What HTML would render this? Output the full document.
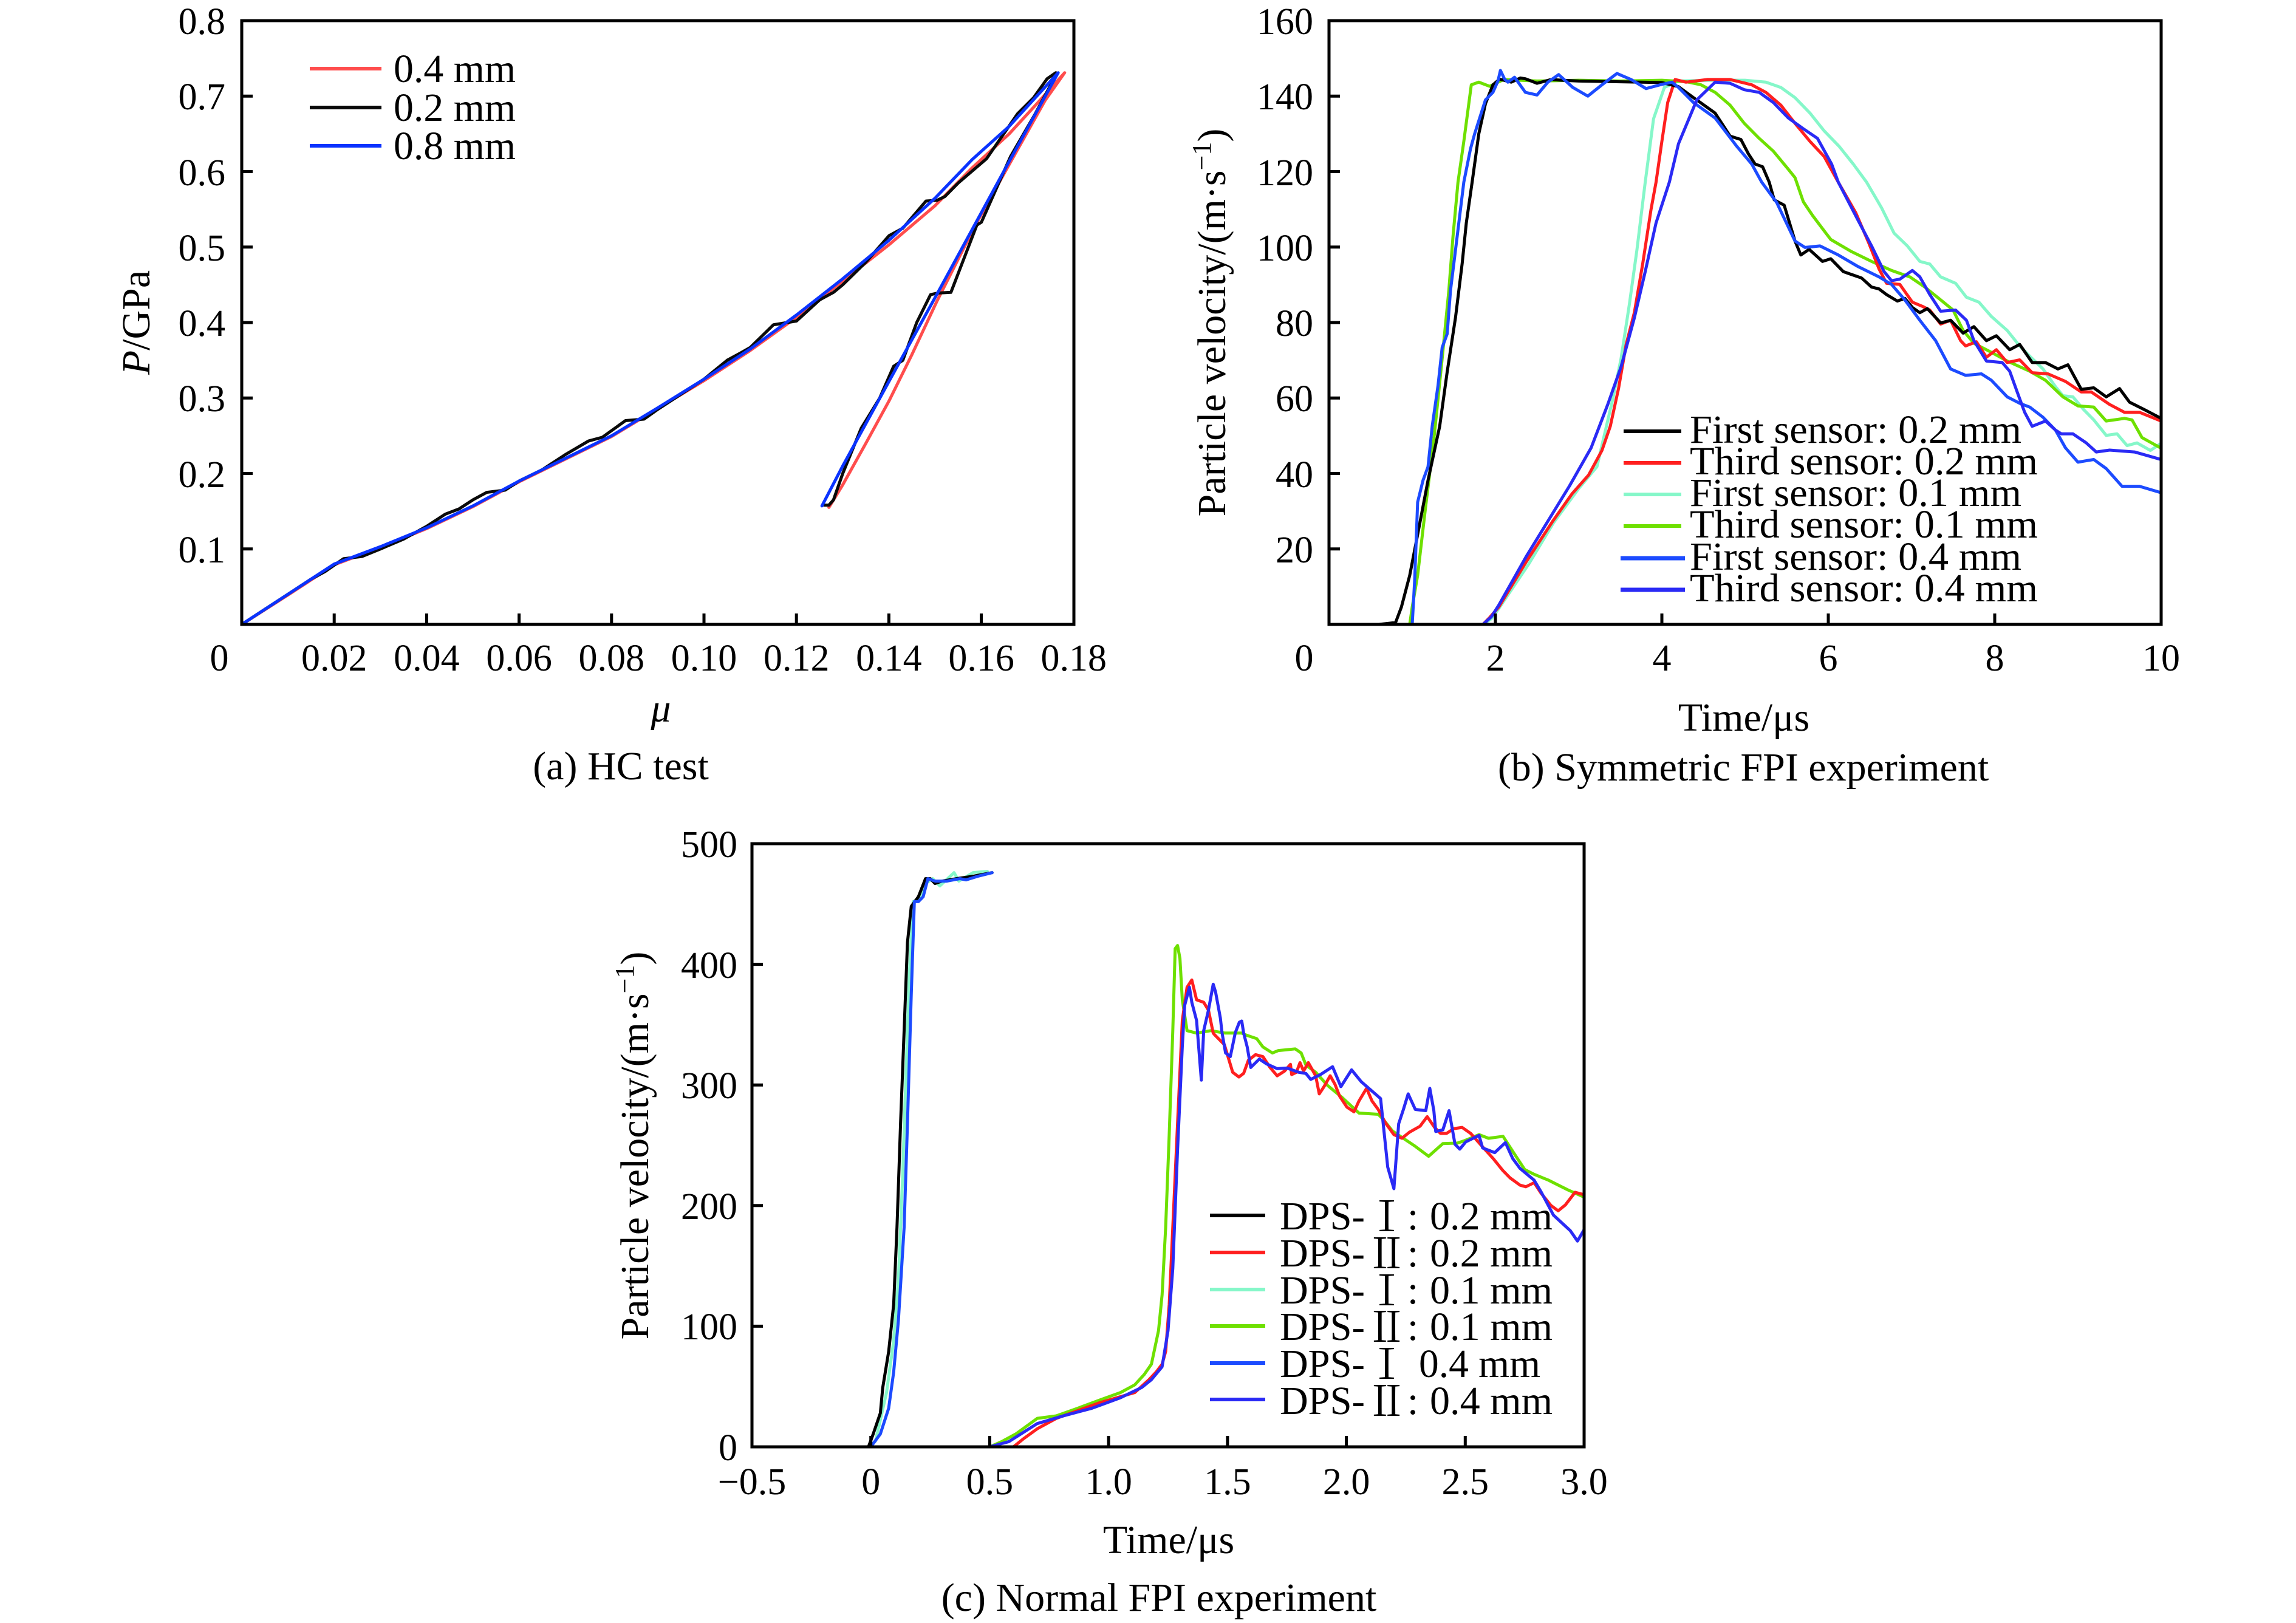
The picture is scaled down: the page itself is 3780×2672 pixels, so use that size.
<!DOCTYPE html>
<html>
<head>
<meta charset="utf-8">
<style>
html,body{margin:0;padding:0;background:#fff;}
svg{display:block;}
.t{font-family:"Liberation Serif","Noto Serif CJK SC",serif;fill:#000;}
.tk{font-size:62px;}
.lg{font-size:66px;}
.ti{font-size:66px;}
.rn{font-family:"Noto Serif CJK SC","Noto Sans CJK SC",serif;font-size:68px;fill:#000;}
polyline{fill:none;stroke-linejoin:round;stroke-linecap:round;}
</style>
</head>
<body>
<svg width="3780" height="2672" viewBox="0 0 3780 2672" xmlns="http://www.w3.org/2000/svg">
<rect x="0" y="0" width="3780" height="2672" fill="#fff"/>

<!-- ================= PANEL A ================= -->
<g transform="translate(398,1028) scale(7611.1,-1242.5)">
  <polyline vector-effect="non-scaling-stroke" stroke="#ff4d4d" stroke-width="5" points="0,0 0.01,0.039 0.02,0.079 0.03,0.102 0.04,0.127 0.05,0.156 0.06,0.189 0.07,0.219 0.08,0.249 0.09,0.286 0.1,0.323 0.11,0.363 0.12,0.407 0.13,0.455 0.14,0.503 0.15,0.555 0.158,0.605 0.166,0.65 0.172,0.69 0.178,0.731 0.1738,0.6945 0.1656,0.605 0.1586,0.528 0.1504,0.4286 0.145,0.358 0.14,0.296 0.135,0.24 0.13,0.185 0.127,0.155"/>
  <polyline vector-effect="non-scaling-stroke" stroke="#0a0a0a" stroke-width="5" points="0,0 0.005,0.02 0.01,0.04 0.015,0.06 0.018,0.07 0.022,0.087 0.026,0.09 0.03,0.1 0.035,0.113 0.04,0.13 0.044,0.146 0.047,0.153 0.05,0.165 0.053,0.175 0.057,0.178 0.06,0.19 0.065,0.205 0.07,0.225 0.075,0.243 0.078,0.248 0.083,0.27 0.087,0.272 0.09,0.285 0.095,0.305 0.1,0.325 0.105,0.35 0.108,0.36 0.11,0.367 0.115,0.397 0.12,0.402 0.125,0.43 0.128,0.44 0.13,0.45 0.135,0.48 0.14,0.515 0.143,0.525 0.148,0.561 0.1504,0.562 0.1521,0.567 0.155,0.585 0.1611,0.617 0.1678,0.6765 0.1713,0.698 0.1742,0.723 0.1761,0.731 0.175,0.715 0.1715,0.675 0.1663,0.62 0.160,0.533 0.159,0.529 0.1534,0.44 0.1505,0.439 0.149,0.437 0.146,0.4 0.143,0.35 0.141,0.342 0.138,0.3 0.134,0.26 0.13,0.2 0.128,0.165 0.127,0.158 0.126,0.158"/>
  <polyline vector-effect="non-scaling-stroke" stroke="#0a33ff" stroke-width="5" points="0,0 0.01,0.04 0.02,0.08 0.03,0.103 0.04,0.128 0.05,0.157 0.06,0.19 0.07,0.22 0.08,0.25 0.09,0.287 0.1,0.325 0.11,0.365 0.12,0.41 0.13,0.458 0.14,0.509 0.15,0.565 0.158,0.616 0.166,0.66 0.1766,0.731 0.1657,0.61 0.1514,0.449 0.14,0.322 0.13,0.21 0.1255,0.157"/>
</g>
<rect x="398" y="34" width="1370" height="994" fill="none" stroke="#000" stroke-width="5"/>
<g stroke="#000" stroke-width="5">
  <line x1="398" y1="158.25" x2="416" y2="158.25"/><line x1="398" y1="282.5" x2="416" y2="282.5"/>
  <line x1="398" y1="406.75" x2="416" y2="406.75"/><line x1="398" y1="531" x2="416" y2="531"/>
  <line x1="398" y1="655.25" x2="416" y2="655.25"/><line x1="398" y1="779.5" x2="416" y2="779.5"/>
  <line x1="398" y1="903.75" x2="416" y2="903.75"/>
  <line x1="550.2" y1="1028" x2="550.2" y2="1010"/><line x1="702.4" y1="1028" x2="702.4" y2="1010"/>
  <line x1="854.6" y1="1028" x2="854.6" y2="1010"/><line x1="1006.8" y1="1028" x2="1006.8" y2="1010"/>
  <line x1="1159" y1="1028" x2="1159" y2="1010"/><line x1="1311.2" y1="1028" x2="1311.2" y2="1010"/>
  <line x1="1463.4" y1="1028" x2="1463.4" y2="1010"/><line x1="1615.6" y1="1028" x2="1615.6" y2="1010"/>
</g>
<g class="t tk" text-anchor="end">
  <text x="371" y="56">0.8</text><text x="371" y="180">0.7</text><text x="371" y="305">0.6</text>
  <text x="371" y="429">0.5</text><text x="371" y="553">0.4</text><text x="371" y="677">0.3</text>
  <text x="371" y="802">0.2</text><text x="371" y="926">0.1</text>
</g>
<g class="t tk" text-anchor="middle">
  <text x="361" y="1104">0</text><text x="550.2" y="1104">0.02</text><text x="702.4" y="1104">0.04</text>
  <text x="854.6" y="1104">0.06</text><text x="1006.8" y="1104">0.08</text><text x="1159" y="1104">0.10</text>
  <text x="1311.2" y="1104">0.12</text><text x="1463.4" y="1104">0.14</text><text x="1615.6" y="1104">0.16</text>
  <text x="1767.8" y="1104">0.18</text>
</g>
<text class="t ti" x="1088" y="1188" text-anchor="middle" font-style="italic">μ</text>
<text class="t ti" transform="translate(246,531) rotate(-90)" text-anchor="middle"><tspan font-style="italic">P</tspan>/GPa</text>
<text class="t ti" x="1022" y="1283" text-anchor="middle">(a) HC test</text>
<line x1="510" y1="113" x2="628" y2="113" stroke="#ff4d4d" stroke-width="6"/>
<line x1="510" y1="177" x2="628" y2="177" stroke="#0a0a0a" stroke-width="6"/>
<line x1="510" y1="240" x2="628" y2="240" stroke="#0a33ff" stroke-width="6"/>
<text class="t lg" x="648" y="135" textLength="201" lengthAdjust="spacingAndGlyphs">0.4 mm</text>
<text class="t lg" x="648" y="199" textLength="201" lengthAdjust="spacingAndGlyphs">0.2 mm</text>
<text class="t lg" x="648" y="262" textLength="201" lengthAdjust="spacingAndGlyphs">0.8 mm</text>

<!-- ================= PANEL B ================= -->
<g transform="translate(2188,1028) scale(137,-6.2125)">
  <polyline vector-effect="non-scaling-stroke" stroke="#85f7c9" stroke-width="5" points="1.0,0 1.85,0 1.95,1.5 2.04,4.2 2.4,16 2.7,27 3.0,36 3.22,41.8 3.41,59.7 3.51,70.5 3.61,84.9 3.7,99.2 3.8,117.2 3.9,134 4.03,142.3 4.2,144 4.6,144.2 5.0,144.2 5.25,143.7 5.43,142.3 5.6,139.6 5.78,135.5 5.95,130.8 6.13,126.7 6.3,122 6.46,117.2 6.64,110.4 6.79,103.7 6.95,100.3 7.1,96.2 7.22,95.5 7.35,92.1 7.53,90.4 7.66,86.7 7.81,85.4 7.96,81.6 8.15,77.9 8.3,73.8 8.42,71.1 8.58,67.7 8.73,63 8.82,60.6 8.94,60.3 9.07,56.9 9.19,54.2 9.34,50.1 9.47,50.5 9.59,47.4 9.71,48.1 9.87,46.1 10,48"/>
  <polyline vector-effect="non-scaling-stroke" stroke="#6ee000" stroke-width="5" points="0.6,0 0.97,0 1.0,4.6 1.065,13 1.16,31 1.26,49 1.36,70.5 1.44,88.5 1.49,102.8 1.55,117.2 1.62,128 1.71,143 1.8,143.7 1.93,142.6 2.1,144.4 2.5,144 3.0,144.2 3.5,144 4.0,144.2 4.3,143.8 4.47,143 4.64,141 4.82,137.6 4.99,132.8 5.17,128.8 5.34,125.4 5.52,120.6 5.6,118.4 5.7,112 5.81,108.4 5.95,104.3 6.03,102 6.27,98.9 6.52,96.2 6.76,93.8 6.98,92.1 7.16,89.4 7.35,86 7.5,83.3 7.62,77.9 7.75,74.5 7.96,72.1 8.15,69.8 8.42,67.1 8.61,64.7 8.82,60.3 9.0,57.9 9.19,57.6 9.34,53.9 9.56,54.6 9.65,54.2 9.77,49.5 10,46.7"/>
  <polyline vector-effect="non-scaling-stroke" stroke="#ff1f1f" stroke-width="5" points="1.0,0 1.85,0 1.93,1.8 2.04,4.6 2.37,16.6 2.69,27.4 2.92,34.6 3.12,39.6 3.28,46.1 3.38,52.5 3.48,62.6 3.57,74.1 3.67,82.7 3.77,95.6 3.87,110 3.93,117.2 4.0,128 4.07,138.3 4.16,144.4 4.29,143.7 4.55,144.4 4.82,144.4 5.08,143 5.25,141 5.43,137.6 5.6,132.8 5.78,128 5.95,124 6.12,117.2 6.33,109.1 6.49,100.9 6.61,94.2 6.7,90.4 6.86,90.1 7.01,85.4 7.13,84.3 7.22,83.3 7.35,79.6 7.47,80.6 7.59,75.2 7.65,73.8 7.78,74.9 7.9,70.8 8.02,72.8 8.15,69.4 8.3,70.1 8.45,66.7 8.64,66.4 8.85,64.4 9.04,61.6 9.16,61.6 9.38,58.3 9.56,56.2 9.74,56.2 10,53.9"/>
  <polyline vector-effect="non-scaling-stroke" stroke="#000" stroke-width="5" points="0.6,0 0.8,0.5 0.87,4.6 0.97,13 1.065,23.8 1.19,38.2 1.33,52.5 1.42,66.9 1.52,81.3 1.6,95.6 1.65,106.4 1.72,117.2 1.8,130 1.88,138 1.97,143 2.05,144.5 2.19,143.7 2.3,144.8 2.36,144.6 2.5,143.4 2.67,144.4 2.8,144.2 3.0,144 3.5,143.8 4.0,143.6 4.2,142.5 4.38,139.6 4.64,135.5 4.82,129.4 4.95,128.5 5.04,124.7 5.12,122 5.21,121.3 5.29,117.2 5.35,112.5 5.47,111.1 5.6,101.6 5.67,97.9 5.77,99.4 5.93,96.2 6.03,96.9 6.18,93.5 6.27,92.8 6.4,91.8 6.52,89.4 6.61,88.9 6.7,87.4 6.83,85.7 6.92,86.4 7.01,84 7.1,82.6 7.19,83.7 7.35,79.9 7.47,80.6 7.62,77.2 7.75,78.9 7.9,75.2 8.02,76.5 8.18,72.8 8.3,74.2 8.45,69.4 8.61,69.4 8.76,67.7 8.88,68.8 9.04,62.3 9.19,62.7 9.34,60.3 9.5,62.5 9.62,58.9 9.8,56.9 10,54.6"/>
  <polyline vector-effect="non-scaling-stroke" stroke="#1c4bff" stroke-width="5" points="0.6,0 1.0,0 1.03,12 1.065,32.4 1.13,38.2 1.19,41.8 1.24,52.5 1.31,63.3 1.36,73.4 1.42,77 1.46,88.5 1.52,99.2 1.62,117.2 1.7,126 1.75,130 1.88,139 1.97,141 2.03,144 2.06,146.8 2.11,144.5 2.15,143.7 2.23,145 2.36,141 2.5,140.3 2.63,143.7 2.76,145.7 2.93,142.3 3.11,140 3.28,143 3.46,146 3.63,144.4 3.81,142 3.98,143 4.12,143.7 4.2,142.3 4.38,138.3 4.64,134.2 4.9,126.7 5.08,122 5.2,117.2 5.38,111.8 5.6,101.6 5.72,99.9 5.9,100.3 6.12,97.9 6.36,94.8 6.61,92.1 6.76,90.1 6.92,86 7.1,80.6 7.29,75.2 7.47,67.7 7.65,66 7.84,66.4 7.96,64.7 8.15,60.3 8.3,58.6 8.42,57.6 8.58,54.9 8.73,51.5 8.85,46.8 9.0,43 9.19,43.7 9.34,41.3 9.53,36.6 9.74,36.6 10,34.9"/>
  <polyline vector-effect="non-scaling-stroke" stroke="#2a2af5" stroke-width="5" points="1.0,0 1.85,0 1.95,2 2.04,5.1 2.37,18 2.89,36.7 3.15,46.8 3.35,58.3 3.51,68.3 3.67,81.3 3.8,93.5 3.93,106.4 4.09,117.2 4.2,127.4 4.42,139 4.64,143.7 4.82,143.4 4.99,141.7 5.17,141 5.34,138.3 5.52,134.2 5.69,131.5 5.87,128.8 6.04,122 6.12,117.2 6.36,107 6.52,100.3 6.67,93.5 6.76,91.1 6.86,91.5 7.01,93.8 7.1,92.1 7.22,87.4 7.35,83 7.53,83.3 7.66,80.6 7.75,75.2 7.9,69.8 8.09,69.4 8.18,67.1 8.27,61.6 8.36,56.2 8.45,52.5 8.61,53.9 8.73,51.5 8.8,50.5 8.94,50.5 9.1,48.1 9.22,45.7 9.38,46.2 9.68,45.7 10,43.7"/>
</g>
<rect x="2188" y="34" width="1370" height="994" fill="none" stroke="#000" stroke-width="5"/>
<g stroke="#000" stroke-width="5">
  <line x1="2188" y1="158.25" x2="2206" y2="158.25"/><line x1="2188" y1="282.5" x2="2206" y2="282.5"/>
  <line x1="2188" y1="406.75" x2="2206" y2="406.75"/><line x1="2188" y1="531" x2="2206" y2="531"/>
  <line x1="2188" y1="655.25" x2="2206" y2="655.25"/><line x1="2188" y1="779.5" x2="2206" y2="779.5"/>
  <line x1="2188" y1="903.75" x2="2206" y2="903.75"/>
  <line x1="2462" y1="1028" x2="2462" y2="1010"/><line x1="2736" y1="1028" x2="2736" y2="1010"/>
  <line x1="3010" y1="1028" x2="3010" y2="1010"/><line x1="3284" y1="1028" x2="3284" y2="1010"/>
</g>
<g class="t tk" text-anchor="end">
  <text x="2162" y="56">160</text><text x="2162" y="180">140</text><text x="2162" y="305">120</text>
  <text x="2162" y="429">100</text><text x="2162" y="553">80</text><text x="2162" y="677">60</text>
  <text x="2162" y="802">40</text><text x="2162" y="926">20</text>
</g>
<g class="t tk" text-anchor="middle">
  <text x="2147" y="1104">0</text><text x="2462" y="1104">2</text><text x="2736" y="1104">4</text>
  <text x="3010" y="1104">6</text><text x="3284" y="1104">8</text><text x="3558" y="1104">10</text>
</g>
<text class="t ti" x="2871" y="1203" text-anchor="middle">Time/μs</text>
<text class="t ti" transform="translate(2017,531) rotate(-90)" text-anchor="middle">Particle velocity/(m·s<tspan dy="-24" font-size="44">−1</tspan><tspan dy="24">)</tspan></text>
<text class="t ti" x="2870" y="1285" text-anchor="middle">(b) Symmetric FPI experiment</text>
<line x1="2673" y1="710" x2="2768" y2="710" stroke="#000" stroke-width="6"/>
<line x1="2673" y1="762" x2="2768" y2="762" stroke="#ff1f1f" stroke-width="6"/>
<line x1="2673" y1="814" x2="2768" y2="814" stroke="#85f7c9" stroke-width="6"/>
<line x1="2673" y1="866" x2="2768" y2="866" stroke="#6ee000" stroke-width="6"/>
<line x1="2668" y1="919" x2="2774" y2="919" stroke="#1c4bff" stroke-width="7"/>
<line x1="2668" y1="971" x2="2774" y2="971" stroke="#2a2af5" stroke-width="7"/>
<text class="t lg" x="2782" y="729" textLength="546" lengthAdjust="spacingAndGlyphs">First sensor: 0.2 mm</text>
<text class="t lg" x="2782" y="781" textLength="573" lengthAdjust="spacingAndGlyphs">Third sensor: 0.2 mm</text>
<text class="t lg" x="2782" y="833" textLength="546" lengthAdjust="spacingAndGlyphs">First sensor: 0.1 mm</text>
<text class="t lg" x="2782" y="885" textLength="573" lengthAdjust="spacingAndGlyphs">Third sensor: 0.1 mm</text>
<text class="t lg" x="2782" y="938" textLength="546" lengthAdjust="spacingAndGlyphs">First sensor: 0.4 mm</text>
<text class="t lg" x="2782" y="990" textLength="573" lengthAdjust="spacingAndGlyphs">Third sensor: 0.4 mm</text>

<!-- ================= PANEL C ================= -->
<g transform="translate(1433.7,2382) scale(391.43,-1.986)">
  <polyline vector-effect="non-scaling-stroke" stroke="#85f7c9" stroke-width="5" points="-0.005,0 0.02,5 0.066,45 0.096,88 0.116,139 0.134,225 0.148,311 0.163,396 0.178,452 0.2,454 0.23,467 0.26,471 0.29,465 0.35,476 0.37,469 0.43,476 0.49,477"/>
  <polyline vector-effect="non-scaling-stroke" stroke="#000" stroke-width="5" points="-0.01,0 0.01,10.7 0.04,28 0.05,49 0.075,79 0.096,118 0.11,182 0.125,268 0.14,345 0.154,418 0.17,448 0.2,456 0.23,471 0.25,471 0.27,467 0.3,469 0.36,471 0.43,473 0.51,476"/>
  <polyline vector-effect="non-scaling-stroke" stroke="#1c4bff" stroke-width="5" points="0,0 0.04,10.7 0.075,32 0.096,62 0.116,105 0.14,182 0.154,268 0.17,375 0.183,452 0.2,452 0.22,456 0.24,471 0.27,469 0.32,469 0.375,471 0.4,470 0.45,473 0.51,476"/>
  <polyline vector-effect="non-scaling-stroke" stroke="#6ee000" stroke-width="5" points="0,0 0.5,0 0.55,4.3 0.61,10.7 0.7,23.6 0.78,25.7 0.87,32 0.96,38.6 1.05,45 1.11,51.4 1.15,60 1.18,68.5 1.21,96.4 1.225,126 1.24,182 1.255,259 1.27,345 1.28,413 1.29,415.6 1.3,405 1.31,370.6 1.33,345 1.37,343 1.43,345 1.49,343 1.56,343 1.578,341.4 1.623,338.4 1.649,331.5 1.689,326.5 1.714,328.5 1.785,329.9 1.81,326.5 1.83,316.5 1.871,310.5 1.921,299.6 1.982,289.6 2.053,276.7 2.134,275.7 2.154,271.7 2.194,261.8 2.285,249.8 2.346,240.9 2.406,251.4 2.467,251.8 2.497,253.8 2.558,258.8 2.598,255.8 2.659,257.4 2.71,241.9 2.75,229.9 2.79,225.9 2.851,221 2.891,217 2.932,213 3.0,207"/>
  <polyline vector-effect="non-scaling-stroke" stroke="#ff1f1f" stroke-width="5" points="0,0 0.6,0 0.64,6.4 0.7,15 0.78,23.6 0.87,30 0.96,36.4 1.05,41.6 1.11,45 1.17,55.7 1.2,62 1.225,68.5 1.24,79 1.255,118 1.27,182 1.29,268 1.31,353.5 1.33,381 1.35,387 1.37,370.6 1.4,368.5 1.42,362 1.44,343 1.447,341.4 1.487,333.4 1.522,310.5 1.548,306.6 1.568,309.6 1.588,320.5 1.618,325.1 1.649,323.5 1.679,314.5 1.709,307.6 1.74,311.5 1.765,317.1 1.77,308.6 1.79,310.5 1.805,318.5 1.82,311.5 1.84,318.5 1.871,307.6 1.886,292.6 1.906,298.6 1.932,307.6 1.952,300.6 1.972,290.6 2.002,281.7 2.032,277.7 2.053,286.7 2.085,297.2 2.108,286.7 2.134,279.7 2.164,268.7 2.2,258.8 2.234,255.8 2.265,260.8 2.31,265.8 2.34,273.7 2.371,264.8 2.396,259.8 2.421,259.8 2.452,263.8 2.487,264.8 2.523,259.8 2.568,249.8 2.618,238.9 2.659,228.9 2.689,222.9 2.73,217 2.755,215.6 2.79,219 2.82,210 2.861,200 2.891,195.7 2.921,200.5 2.962,211 3.0,209"/>
  <polyline vector-effect="non-scaling-stroke" stroke="#2a2af5" stroke-width="5" points="0,0 0.5,0 0.58,4.3 0.7,19.3 0.81,25.7 0.93,32 1.05,40.7 1.14,49.3 1.18,55.7 1.225,66.4 1.25,96.4 1.27,147.8 1.29,246 1.31,332 1.32,366 1.34,381 1.35,368.5 1.37,353.5 1.39,304 1.4,345 1.42,362 1.44,383.5 1.45,377 1.47,355.6 1.477,343.4 1.492,326.5 1.512,323.5 1.533,343.4 1.55,352 1.56,353 1.568,343 1.583,331.5 1.598,314.5 1.634,321.5 1.664,317.5 1.709,313.5 1.75,314 1.8,310.5 1.83,309.5 1.85,304.6 1.891,308.6 1.942,315.1 1.977,298.6 2.022,312.5 2.063,302.6 2.144,288.7 2.174,231.9 2.2,214 2.22,267.8 2.24,279.7 2.26,292.6 2.29,279.7 2.334,278.7 2.351,297.2 2.368,278.7 2.376,261.4 2.406,262.8 2.432,278.7 2.457,250.8 2.477,246.8 2.502,252.8 2.558,258.2 2.573,247.8 2.624,243.9 2.669,252.2 2.7,238.9 2.73,230.9 2.79,221 2.82,211 2.871,192.1 2.942,179.2 2.972,170.6 3.0,180"/>
</g>
<rect x="1238" y="1389" width="1370" height="993" fill="none" stroke="#000" stroke-width="5"/>
<g stroke="#000" stroke-width="5">
  <line x1="1238" y1="1587.6" x2="1256" y2="1587.6"/><line x1="1238" y1="1786.2" x2="1256" y2="1786.2"/>
  <line x1="1238" y1="1984.8" x2="1256" y2="1984.8"/><line x1="1238" y1="2183.4" x2="1256" y2="2183.4"/>
  <line x1="1433.7" y1="2382" x2="1433.7" y2="2364"/><line x1="1629.4" y1="2382" x2="1629.4" y2="2364"/>
  <line x1="1825.1" y1="2382" x2="1825.1" y2="2364"/><line x1="2020.9" y1="2382" x2="2020.9" y2="2364"/>
  <line x1="2216.6" y1="2382" x2="2216.6" y2="2364"/><line x1="2412.3" y1="2382" x2="2412.3" y2="2364"/>
</g>
<g class="t tk" text-anchor="end">
  <text x="1214" y="1411">500</text><text x="1214" y="1610">400</text><text x="1214" y="1808">300</text>
  <text x="1214" y="2007">200</text><text x="1214" y="2205">100</text><text x="1214" y="2404">0</text>
</g>
<g class="t tk" text-anchor="middle">
  <text x="1238" y="2460">−0.5</text><text x="1433.7" y="2460">0</text><text x="1629.4" y="2460">0.5</text>
  <text x="1825.1" y="2460">1.0</text><text x="2020.9" y="2460">1.5</text><text x="2216.6" y="2460">2.0</text>
  <text x="2412.3" y="2460">2.5</text><text x="2608" y="2460">3.0</text>
</g>
<text class="t ti" x="1924" y="2557" text-anchor="middle">Time/μs</text>
<text class="t ti" transform="translate(1067,1886) rotate(-90)" text-anchor="middle">Particle velocity/(m·s<tspan dy="-24" font-size="44">−1</tspan><tspan dy="24">)</tspan></text>
<text class="t ti" x="1908" y="2652" text-anchor="middle">(c) Normal FPI experiment</text>
<line x1="1992" y1="2001" x2="2083" y2="2001" stroke="#000" stroke-width="6"/>
<line x1="1992" y1="2062" x2="2083" y2="2062" stroke="#ff1f1f" stroke-width="6"/>
<line x1="1992" y1="2123" x2="2083" y2="2123" stroke="#85f7c9" stroke-width="6"/>
<line x1="1992" y1="2183" x2="2083" y2="2183" stroke="#6ee000" stroke-width="6"/>
<line x1="1992" y1="2244" x2="2083" y2="2244" stroke="#1c4bff" stroke-width="6"/>
<line x1="1992" y1="2304" x2="2083" y2="2304" stroke="#2a2af5" stroke-width="6"/>
<g class="t lg">
  <text x="2107" y="2024" textLength="140" lengthAdjust="spacingAndGlyphs">DPS-</text>
  <text x="2107" y="2085" textLength="140" lengthAdjust="spacingAndGlyphs">DPS-</text>
  <text x="2107" y="2146" textLength="140" lengthAdjust="spacingAndGlyphs">DPS-</text>
  <text x="2107" y="2206" textLength="140" lengthAdjust="spacingAndGlyphs">DPS-</text>
  <text x="2107" y="2267" textLength="140" lengthAdjust="spacingAndGlyphs">DPS-</text>
  <text x="2107" y="2328" textLength="140" lengthAdjust="spacingAndGlyphs">DPS-</text>
</g>
<g class="rn" text-anchor="middle">
  <text x="2283" y="2027">Ⅰ</text>
  <text x="2283" y="2088">Ⅱ</text>
  <text x="2283" y="2149">Ⅰ</text>
  <text x="2283" y="2209">Ⅱ</text>
  <text x="2283" y="2270">Ⅰ</text>
  <text x="2283" y="2331">Ⅱ</text>
</g>
<g class="t lg" text-anchor="middle">
  <text x="2326" y="2024">:</text><text x="2326" y="2085">:</text><text x="2326" y="2146">:</text>
  <text x="2326" y="2206">:</text><text x="2326" y="2328">:</text>
</g>
<g class="t lg">
  <text x="2354" y="2024" textLength="202" lengthAdjust="spacingAndGlyphs">0.2 mm</text>
  <text x="2354" y="2085" textLength="202" lengthAdjust="spacingAndGlyphs">0.2 mm</text>
  <text x="2354" y="2146" textLength="202" lengthAdjust="spacingAndGlyphs">0.1 mm</text>
  <text x="2354" y="2206" textLength="202" lengthAdjust="spacingAndGlyphs">0.1 mm</text>
  <text x="2336" y="2267" textLength="200" lengthAdjust="spacingAndGlyphs">0.4 mm</text>
  <text x="2354" y="2328" textLength="202" lengthAdjust="spacingAndGlyphs">0.4 mm</text>
</g>
</svg>
</body>
</html>
